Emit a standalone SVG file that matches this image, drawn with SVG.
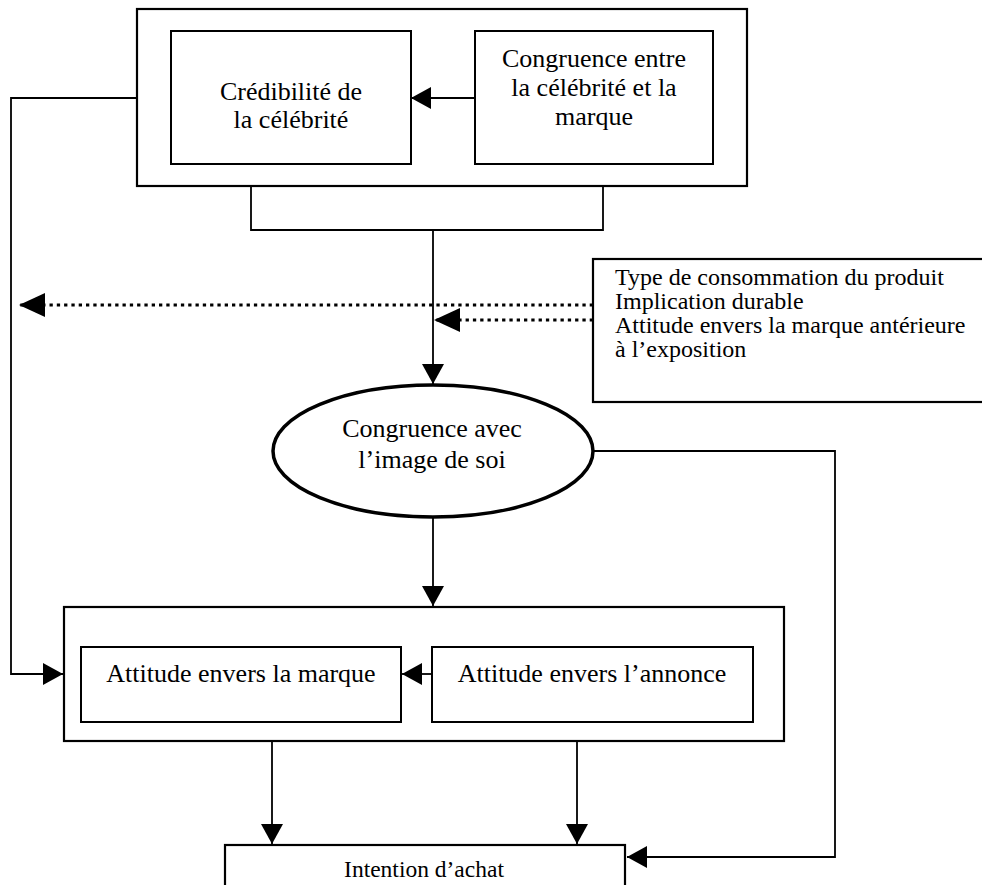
<svg xmlns="http://www.w3.org/2000/svg" width="982" height="885" viewBox="0 0 982 885">
<style>
  .box { fill: #fff; stroke: #000; stroke-width: 2.2; }
  .in { fill: #fff; stroke: #000; stroke-width: 2; }
  .ln { fill: none; stroke: #000; stroke-width: 1.8; }
  .dot { fill: none; stroke: #000; stroke-width: 3.2; stroke-dasharray: 3.3 4; }
  text { font-family: "Liberation Serif", "Times New Roman", serif; fill: #000; }
  .t26 { font-size: 26px; text-anchor: middle; }
  .t24 { font-size: 24px; }
</style>
<defs>
  <marker id="ah" viewBox="0 0 20 22" refX="20" refY="11" markerWidth="20" markerHeight="22" markerUnits="userSpaceOnUse" orient="auto">
    <path d="M0,0 L20,11 L0,22 Z" fill="#000"/>
  </marker>
  <marker id="ahd" viewBox="0 0 26 24" refX="26" refY="12" markerWidth="26" markerHeight="24" markerUnits="userSpaceOnUse" orient="auto">
    <path d="M0,0 L26,12 L0,24 Z" fill="#000"/>
  </marker>
</defs>
<rect width="982" height="885" fill="#fff"/>

<g id="source-group">
  <rect class="box" x="137" y="9" width="610" height="177"/>
  <g id="credibilite">
    <rect class="in" x="171" y="31" width="240" height="133"/>
    <text class="t26" x="291" y="100">Crédibilité de</text>
    <text class="t26" x="291" y="128">la célébrité</text>
  </g>
  <g id="congruence-marque">
    <rect class="in" x="475" y="31" width="238" height="133"/>
    <text class="t26" x="594" y="67">Congruence entre</text>
    <text class="t26" x="594" y="96">la célébrité et la</text>
    <text class="t26" x="594" y="125">marque</text>
  </g>
</g>

<g id="moderateurs">
  <rect class="box" x="593" y="259" width="400" height="143"/>
  <text class="t24" x="615" y="285">Type de consommation du produit</text>
  <text class="t24" x="615" y="309">Implication durable</text>
  <text class="t24" x="615" y="333">Attitude envers la marque antérieure</text>
  <text class="t24" x="615" y="357">à l’exposition</text>
</g>

<g id="congruence-soi">
  <ellipse cx="433" cy="451" rx="160" ry="66" fill="#fff" stroke="#000" stroke-width="3.5"/>
  <text class="t26" x="432" y="437">Congruence avec</text>
  <text class="t26" x="432" y="468">l’image de soi</text>
</g>

<g id="attitudes-group">
  <rect class="box" x="64" y="607" width="720" height="134"/>
  <g id="attitude-marque">
    <rect class="in" x="81" y="647" width="320" height="75"/>
    <text class="t26" x="241" y="682">Attitude envers la marque</text>
  </g>
  <g id="attitude-annonce">
    <rect class="in" x="432" y="647" width="321" height="75"/>
    <text class="t26" x="592" y="682">Attitude envers l’annonce</text>
  </g>
</g>

<g id="intention">
  <rect class="box" x="225" y="845" width="400" height="50"/>
  <text x="424" y="877" font-size="23.5" text-anchor="middle">Intention d’achat</text>
</g>

<g id="connectors">
  <line class="ln" x1="475" y1="98" x2="411" y2="98" marker-end="url(#ah)"/>
  <polyline class="ln" points="251,186 251,230 603,230 603,186"/>
  <line class="ln" x1="433" y1="230" x2="433" y2="384" marker-end="url(#ah)"/>
  <polyline class="ln" points="137,98 11,98 11,674 63,674" marker-end="url(#ah)"/>
  <line class="dot" x1="593" y1="305" x2="19" y2="305" marker-end="url(#ahd)"/>
  <line class="dot" x1="593" y1="320" x2="434" y2="320" marker-end="url(#ahd)"/>
  <line class="ln" x1="433" y1="517" x2="433" y2="606" marker-end="url(#ah)"/>
  <line class="ln" x1="432" y1="674" x2="402" y2="674" marker-end="url(#ah)"/>
  <line class="ln" x1="272" y1="741" x2="272" y2="844" marker-end="url(#ah)"/>
  <line class="ln" x1="577" y1="741" x2="577" y2="844" marker-end="url(#ah)"/>
  <polyline class="ln" points="593,451 835,451 835,857 627,857" marker-end="url(#ah)"/>
</g>
</svg>
